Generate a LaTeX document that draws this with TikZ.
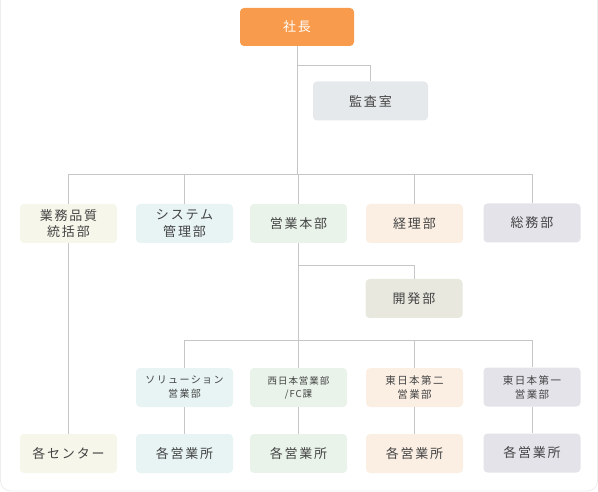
\documentclass[tikz,border=0pt]{standalone}
\usepackage{fontspec}
\setmainfont{Noto Sans CJK JP}
\usetikzlibrary{positioning,calc}
\definecolor{cBoss}{HTML}{F89B4C}
\definecolor{cAudit}{HTML}{E5E9EB}
\definecolor{cDev}{HTML}{E8E8DF}
\definecolor{cQa}{HTML}{F6F6EA}
\definecolor{cSys}{HTML}{E8F4F4}
\definecolor{cSales}{HTML}{E9F3EA}
\definecolor{cAcct}{HTML}{FBEFE4}
\definecolor{cGa}{HTML}{E4E3EA}
\definecolor{cLine}{HTML}{C6C6C6}
\definecolor{cInk}{HTML}{444444}
\tikzset{
  unit/.style={fill=#1, rounded corners=4pt, minimum width=97pt, minimum height=39pt,
    inner sep=2pt, align=center, text=cInk, font=\fontsize{13}{16.5}\selectfont\addfontfeature{LetterSpace=14}},
  small/.style={font=\fontsize{10}{14}\selectfont\addfontfeature{LetterSpace=14}},
  tiny/.style={font=\fontsize{9.5}{13}\selectfont\addfontfeature{LetterSpace=10}},
  wire/.style={draw=cLine, line width=0.8pt},
}
\begin{document}
\begin{tikzpicture}[x=1pt, y=-1pt]

  % ---------- frame ----------
  \useasboundingbox (0,0) rectangle (598,492);
  \draw[gray!14, line width=0.8pt, rounded corners=10pt] (0.5,-20) -- (0.5,491) -- (597.5,491) -- (597.5,-20);

  % ---------- top ----------
  \node[unit=cBoss, minimum width=114pt, minimum height=38pt, text=white] (boss) at (297,27) {社長};
  \node[unit=cAudit, minimum width=115pt] (audit) at (370.5,101) {監査室};

  % ---------- departments ----------
  \node[unit=cQa]    (qa)    at (68.5,223.5)  {業務品質\\統括部};
  \node[unit=cSys]   (sys)   at (184.5,223.5) {システム\\管理部};
  \node[unit=cSales] (sales) at (298.5,223.5) {営業本部};
  \node[unit=cAcct]  (acct)  at (414.5,223.5) {経理部};
  \node[unit=cGa]    (ga)    at (532,223)     {総務部};

  \node[unit=cDev] (dev) at (414,298.5) {開発部};

  % ---------- sales divisions ----------
  \node[unit=cSys, small]   (sol)  at (184.5,387.5) {ソリューション\\営業部};
  \node[unit=cSales, tiny]  (west) at (298.5,387.5) {西日本営業部\\/FC課};
  \node[unit=cAcct, small, font=\fontsize{10.5}{14}\selectfont\addfontfeature{LetterSpace=14}]
                            (east2) at (414.5,387.5) {東日本第二\\営業部};
  \node[unit=cGa, small, font=\fontsize{10.5}{14}\selectfont\addfontfeature{LetterSpace=14}]
                            (east1) at (532,387) {東日本第一\\営業部};

  % ---------- offices ----------
  \node[unit=cQa]    (ctr) at (68.5,453.5)  {各センター};
  \node[unit=cSys]   (of1) at (184.5,453.5) {各営業所};
  \node[unit=cSales] (of2) at (298.5,453.5) {各営業所};
  \node[unit=cAcct]  (of3) at (414.5,453.5) {各営業所};
  \node[unit=cGa]    (of4) at (532,453)     {各営業所};

  % ---------- connectors ----------
  \coordinate (bus1) at (0,174);
  \coordinate (bus2) at (0,340);
  \draw[wire] (boss.south) -- (boss.south |- bus1);
  \draw[wire] (boss.south |- 0,65) -| (audit.north);
  \draw[wire] (qa.north |- bus1) -- (ga.north |- bus1);
  \foreach \dep in {qa, sys, sales, acct, ga} {
    \draw[wire] (\dep.north |- bus1) -- (\dep.north);
  }
  \draw[wire] (sales.south) -- (west.north);
  \draw[wire] (sales.south |- 0,265) -| (dev.north);
  \draw[wire] (sol.north |- bus2) -- (east1.north |- bus2);
  \foreach \div in {sol, east2, east1} {
    \draw[wire] (\div.north |- bus2) -- (\div.north);
  }
  \draw[wire] (qa.south) -- (ctr.north);
  \foreach \div/\off in {sol/of1, west/of2, east2/of3, east1/of4} {
    \draw[wire] (\div.south) -- (\off.north);
  }

\end{tikzpicture}
\end{document}
